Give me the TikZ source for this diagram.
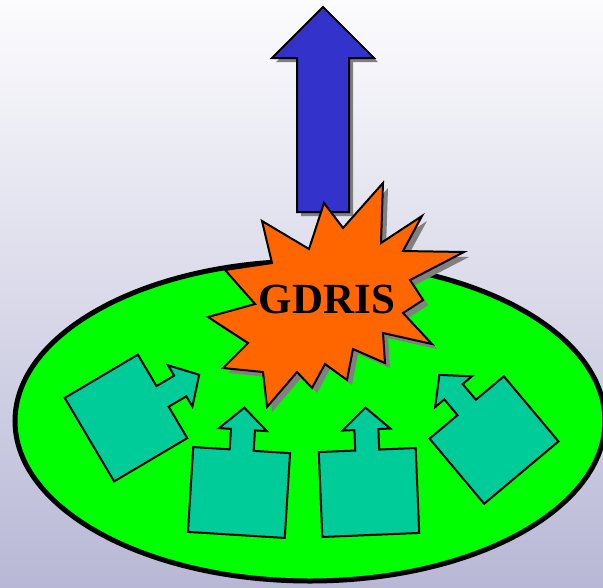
\documentclass[tikz,border=0pt]{standalone}
\usepackage{fontspec}
\setmainfont{Liberation Serif}
\usetikzlibrary{shadows}

\definecolor{bgtop}{RGB}{252,252,254}
\definecolor{bgbottom}{RGB}{184,184,214}
\definecolor{fieldgreen}{RGB}{0,255,0}
\definecolor{unitteal}{RGB}{0,204,153}
\definecolor{upblue}{RGB}{51,51,204}
\definecolor{burstorange}{RGB}{255,102,0}
\definecolor{shadowgray}{RGB}{128,128,128}

\tikzset{
  pics/unit/.style={code={
    \draw[unitbox] (-48.5,42.5) -- (-48.5,-42.5) -- (-12,-42.5) -- (-12,-63)
      -- (-24,-63) -- (0,-85) -- (24,-63) -- (12,-63) -- (12,-42.5)
      -- (48.5,-42.5) -- (48.5,42.5) -- cycle;
  }}
}

\begin{document}
\begin{tikzpicture}[x=1pt,y=-1pt,
    field/.style={draw, line width=5pt, fill=fieldgreen},
    unitbox/.style={draw, line width=2pt, fill=unitteal, line join=miter},
    uparrow/.style={draw, line width=2pt, fill=upblue,
      drop shadow={shadow xshift=4pt, shadow yshift=-4pt, opacity=1, fill=shadowgray}},
    burst/.style={draw, line width=2pt, fill=burstorange,
      drop shadow={shadow xshift=5pt, shadow yshift=-5pt, opacity=1, fill=shadowgray}}
  ]
  \useasboundingbox (0,0) rectangle (603,587);
  \shade[top color=bgtop, bottom color=bgbottom] (0,0) rectangle (603,587);

  % the field
  \draw[field] (310,421) ellipse [x radius=295, y radius=160];

  % arrow going up
  \draw[uparrow] (323,7) -- (374,58) -- (349,58) -- (349,212) -- (297,212)
    -- (297,58) -- (272,58) -- cycle;

  % the star
  \draw[burst] (383,183) -- (381,243) -- (422,216) -- (403,251) -- (464,252)
    -- (410,280) -- (423,300) -- (403,313) -- (432,344) -- (383,333)
    -- (385,363) -- (353,349) -- (347,380) -- (325,364) -- (312,388)
    -- (297,372) -- (267,407) -- (263,372) -- (223,368) -- (248,343)
    -- (208,317) -- (255,304) -- (225,270) -- (272,263) -- (262,221)
    -- (309,249) -- (324,203) -- (343,228) -- cycle;
  \node[font=\bfseries\fontsize{43}{43}\selectfont] (gdris) at (327,299) {GDRIS};

  % units in the field
  \pic[rotate=-59.4] (unitA) at (126,418) {unit};
  \pic[rotate=-3.6] (unitB) at (239,492.5) {unit};
  \pic[rotate=2.4] (unitC) at (369,492.5) {unit};
  \pic[rotate=40] (unitD) at (494,440) {unit};
\end{tikzpicture}
\end{document}
